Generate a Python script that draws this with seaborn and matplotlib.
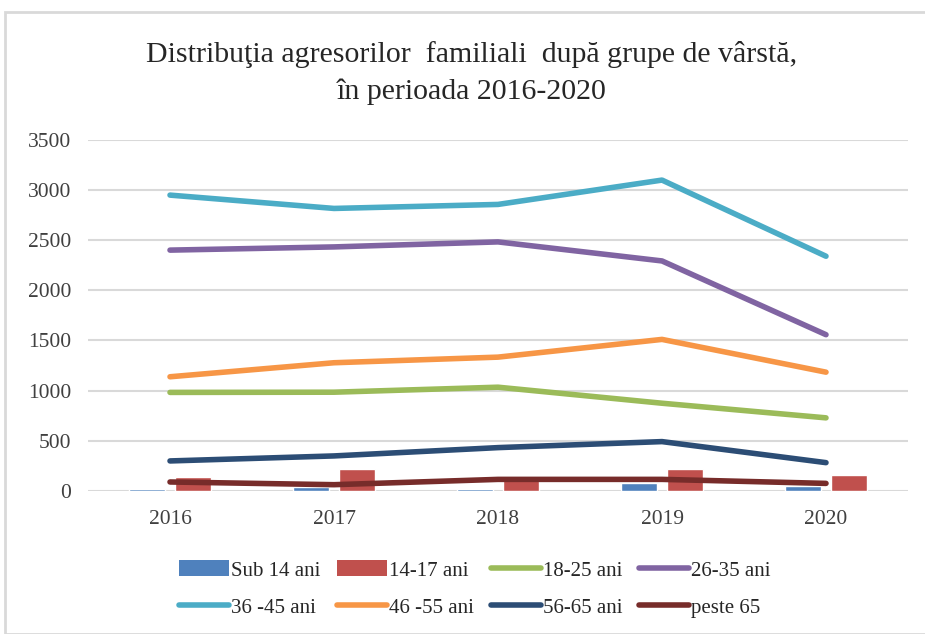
import pandas as pd
import numpy as np
import matplotlib
matplotlib.use('Agg')
import matplotlib.pyplot as plt
import seaborn as sns
from matplotlib.patches import Patch, Rectangle
from matplotlib.lines import Line2D


years = ['2016', '2017', '2018', '2019', '2020']

# bar series
sub_14 = [17, 33, 17, 80, 50]
ani_14_17 = [133, 213, 110, 213, 157]

# line series
ani_18_25 = [981, 983, 1033, 873, 727]
ani_26_35 = [2401, 2433, 2483, 2293, 1557]
ani_36_45 = [2950, 2817, 2857, 3100, 2340]
ani_46_55 = [1137, 1277, 1333, 1510, 1183]
ani_56_65 = [297, 347, 430, 490, 280]
peste_65 = [87, 60, 113, 113, 73]

bar_names = ['Sub 14 ani', '14-17 ani']
line_names = ['18-25 ani', '26-35 ani', '36 -45 ani', '46 -55 ani', '56-65 ani', 'peste 65']

colors = {
    'Sub 14 ani': '#4F81BD',
    '14-17 ani': '#C0504D',
    '18-25 ani': '#9BBB59',
    '26-35 ani': '#8064A2',
    '36 -45 ani': '#4BACC6',
    '46 -55 ani': '#F79646',
    '56-65 ani': '#2C4D75',
    'peste 65': '#772C2A',
}


def main():
    sns.set_theme(style='white')
    plt.rcParams['font.family'] = ['Liberation Serif', 'DejaVu Serif']

    bars = pd.DataFrame({
        'an': years * 2,
        'grupa': [bar_names[0]] * 5 + [bar_names[1]] * 5,
        'valoare': sub_14 + ani_14_17,
    })
    line_vals = [ani_18_25, ani_26_35, ani_36_45, ani_46_55, ani_56_65, peste_65]
    lines = pd.DataFrame({
        'pos': list(range(len(years))) * len(line_names),
        'grupa': [n for n in line_names for _ in years],
        'valoare': [v for vals in line_vals for v in vals],
    })

    fig = plt.figure(figsize=(9.25, 6.34), dpi=100)
    ax = fig.add_axes([88 / 925, 1 - 490.7 / 634, 820 / 925, 350.7 / 634])

    sns.barplot(data=bars, x='an', y='valoare', hue='grupa', order=years,
                hue_order=bar_names, palette=colors, width=0.56, gap=0.2,
                saturation=1, errorbar=None, legend=False, ax=ax, zorder=2)
    sns.lineplot(data=lines, x='pos', y='valoare', hue='grupa',
                 hue_order=line_names, palette=colors, linewidth=4,
                 legend=False, ax=ax, zorder=3, solid_capstyle='round')

    ax.set_xlim(-0.5, 4.5)
    ax.set_ylim(0, 3500)
    ax.set_yticks(np.arange(0, 3501, 500))
    ax.set_xticks(range(len(years)))
    ax.set_xticklabels(years)
    ax.set_xlabel('')
    ax.set_ylabel('')
    ax.grid(axis='y', color='#d9d9d9', linewidth=1.5, zorder=0)
    ax.set_axisbelow(True)
    for s in ax.spines.values():
        s.set_visible(False)
    ax.tick_params(axis='both', length=0, labelsize=15.5, colors='#404040')
    ax.tick_params(axis='x', pad=14)
    ax.tick_params(axis='y', pad=12)

    fig.text(0.51, 1 - 55 / 634, 'Distribuţia agresorilor  familiali  după grupe de vârstă,',
             ha='center', va='center', fontsize=21.5, color='#262626')
    fig.text(0.51, 1 - 92 / 634, 'în perioada 2016-2020',
             ha='center', va='center', fontsize=21.5, color='#262626')

    handles = [Patch(facecolor=colors[n], edgecolor='none', label=n) for n in bar_names]
    handles += [Line2D([0], [0], color=colors[n], linewidth=4, solid_capstyle='round', label=n)
                for n in line_names]
    # legend fills column by column; reorder so it reads row by row
    order = [0, 4, 1, 5, 2, 6, 3, 7]
    handles = [handles[i] for i in order]
    fig.legend(handles=handles, loc='center', bbox_to_anchor=(475 / 925, 1 - 589 / 634),
               ncol=4, frameon=False, fontsize=15, handlelength=2.4, handleheight=0.8,
               handletextpad=0.1, columnspacing=0.8, labelspacing=0.8,
               labelcolor='#262626')

    fig.patches.append(Rectangle((5 / 925, 0), 1, 1 - 12 / 634, transform=fig.transFigure,
                                 fill=False, edgecolor='#d9d9d9', linewidth=2))

    fig.savefig('out.png', dpi=100)
    plt.close(fig)


if __name__ == '__main__':
    main()
